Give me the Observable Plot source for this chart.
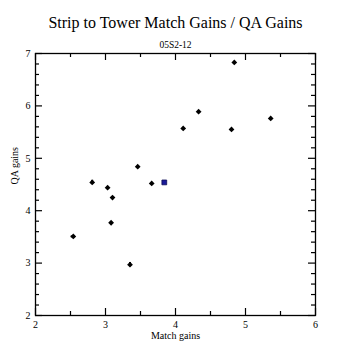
<!DOCTYPE html>
<html>
<head>
<meta charset="utf-8">
<script src="https://cdn.jsdelivr.net/npm/d3@7"></script>
<script src="https://cdn.jsdelivr.net/npm/@observablehq/plot@0.6"></script>
<style>
  html, body { margin: 0; padding: 0; background: #fff; }
  #chart svg { display: block; }
</style>
</head>
<body>
<div id="chart"></div>
<script>
const titleText = "Strip to Tower Match Gains / QA Gains";
const subtitleText = "05S2-12";
const xLabel = "Match gains";
const yLabel = "QA gains";

const matchGains = [2.54, 2.81, 3.03, 3.10, 3.08, 3.35, 3.46, 3.66, 4.11, 4.33, 4.84, 4.80, 5.36];
const qaGains    = [3.51, 4.54, 4.44, 4.25, 3.77, 2.97, 4.84, 4.52, 5.57, 5.89, 6.83, 5.55, 5.76];
const xErr       = [0.03, 0.00, 0.00, 0.00, 0.00, 0.00, 0.00, 0.00, 0.00, 0.00, 0.00, 0.00, 0.00];
const yErr       = [0.00, 0.04, 0.00, 0.00, 0.00, 0.04, 0.00, 0.00, 0.00, 0.00, 0.00, 0.00, 0.00];

const highlightX = [3.84];
const highlightY = [4.54];

const xMajorTicks = [2, 3, 4, 5, 6];
const xMinorTicks = [2.5, 3.5, 4.5, 5.5];
const yMajorTicks = [2, 3, 4, 5, 6, 7];
const yMinorTicks = [2.2, 2.4, 2.6, 2.8, 3.2, 3.4, 3.6, 3.8, 4.2, 4.4, 4.6, 4.8, 5.2, 5.4, 5.6, 5.8, 6.2, 6.4, 6.6, 6.8];

const points = matchGains.map((x, i) => ({x, y: qaGains[i], xe: xErr[i], ye: yErr[i]}));
const highlight = highlightX.map((x, i) => ({x, y: highlightY[i]}));

const W = 350, H = 350;
const mL = 35, mR = 35, mT = 53, mB = 35;
const fw = W - mL - mR, fh = H - mT - mB;
const major = 7, minor = 4;

const chart = Plot.plot({
  width: W,
  height: H,
  marginLeft: mL, marginRight: mR, marginTop: mT, marginBottom: mB,
  style: {fontFamily: "'Liberation Serif', 'DejaVu Serif', serif", fontSize: "10px", color: "#000", background: "#fff"},
  x: {domain: [2, 6]},
  y: {domain: [2, 7]},
  marks: [
    Plot.frame({stroke: "#000", strokeWidth: 1.3}),
    // inward ticks bottom/top
    Plot.tickX(xMajorTicks, {x: d => d, insetTop: fh - major, stroke: "#000", strokeWidth: 1.2}),
    Plot.tickX(xMajorTicks, {x: d => d, insetBottom: fh - major, stroke: "#000", strokeWidth: 1.2}),
    Plot.tickX(xMinorTicks, {x: d => d, insetTop: fh - minor, stroke: "#000", strokeWidth: 1.2}),
    Plot.tickX(xMinorTicks, {x: d => d, insetBottom: fh - minor, stroke: "#000", strokeWidth: 1.2}),
    // inward ticks left/right
    Plot.tickY(yMajorTicks, {y: d => d, insetRight: fw - major, stroke: "#000", strokeWidth: 1.2}),
    Plot.tickY(yMajorTicks, {y: d => d, insetLeft: fw - major, stroke: "#000", strokeWidth: 1.2}),
    Plot.tickY(yMinorTicks, {y: d => d, insetRight: fw - minor, stroke: "#000", strokeWidth: 1.2}),
    Plot.tickY(yMinorTicks, {y: d => d, insetLeft: fw - minor, stroke: "#000", strokeWidth: 1.2}),
    Plot.axisX({ticks: xMajorTicks, tickSize: 0, tickPadding: 5, tickFormat: d => String(d), label: null, fill: "#000", fontSize: 10}),
    Plot.axisY({ticks: yMajorTicks, tickSize: 0, tickPadding: 5, tickFormat: d => String(d), label: null, fill: "#000", fontSize: 10}),
    Plot.text([xLabel], {frameAnchor: "bottom", dy: 20, lineAnchor: "middle", text: d => d, fontSize: 10, fill: "#000"}),
    Plot.text([yLabel], {frameAnchor: "left", dx: -21, rotate: -90, lineAnchor: "middle", text: d => d, fontSize: 10, fill: "#000"}),
    // error bars
    Plot.ruleY(points.filter(d => d.xe > 0), {y: "y", x1: d => d.x - d.xe, x2: d => d.x + d.xe, stroke: "#000", strokeWidth: 2}),
    Plot.ruleX(points.filter(d => d.ye > 0), {x: "x", y1: d => d.y - d.ye, y2: d => d.y + d.ye, stroke: "#000", strokeWidth: 2}),
    Plot.dot(points, {x: "x", y: "y", symbol: "diamond2", r: 2.6, fill: "#000", stroke: "none"}),
    Plot.dot(highlight, {x: "x", y: "y", symbol: "square", r: 2.7, fill: "#1a1a99", stroke: "#0d0d55", strokeWidth: 0.8}),
    // title and subtitle
    Plot.text([titleText], {frameAnchor: "top", dy: -31, lineAnchor: "middle", text: d => d, fontSize: 16, fill: "#000"}),
    Plot.text([subtitleText], {frameAnchor: "top", dy: -9, lineAnchor: "middle", text: d => d, fontSize: 9.5, fill: "#000"})
  ]
});

document.getElementById("chart").appendChild(chart);
</script>
</body>
</html>
